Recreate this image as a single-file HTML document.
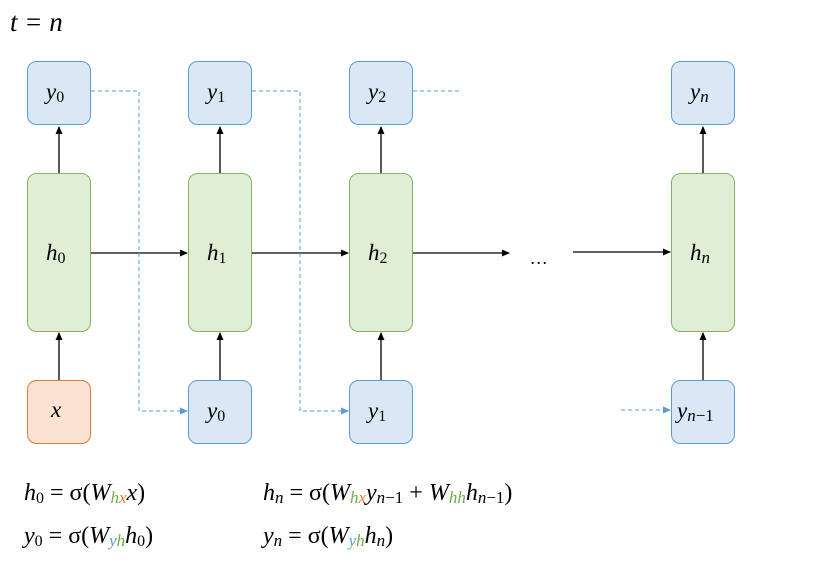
<!DOCTYPE html>
<html><head><meta charset="utf-8"><style>
body{margin:0;background:#fff}
svg text{font-family:"Liberation Serif",serif;font-style:italic}
</style></head><body>
<svg width="813" height="559" viewBox="0 0 813 559" xmlns="http://www.w3.org/2000/svg">
<defs>
<marker id="a" markerWidth="8" markerHeight="8" refX="7" refY="4" orient="auto" markerUnits="userSpaceOnUse"><path d="M0,0.5 L8,4 L0,7.5z" fill="#000"/></marker>
<marker id="b" markerWidth="8" markerHeight="8" refX="7" refY="4" orient="auto" markerUnits="userSpaceOnUse"><path d="M0,0.5 L8,4 L0,7.5z" fill="#5b9bd5"/></marker>
</defs>
<text x="10" y="31" font-size="27">t = n</text>
<g stroke="#000" stroke-width="1.3" fill="none">
<line x1="59" y1="173" x2="59" y2="127" marker-end="url(#a)"/>
<line x1="220" y1="173" x2="220" y2="127" marker-end="url(#a)"/>
<line x1="381" y1="173" x2="381" y2="127" marker-end="url(#a)"/>
<line x1="703" y1="173" x2="703" y2="127" marker-end="url(#a)"/>
<line x1="59" y1="380" x2="59" y2="333" marker-end="url(#a)"/>
<line x1="220" y1="380" x2="220" y2="333" marker-end="url(#a)"/>
<line x1="381" y1="380" x2="381" y2="333" marker-end="url(#a)"/>
<line x1="703" y1="380" x2="703" y2="333" marker-end="url(#a)"/>
<line x1="91" y1="253" x2="187" y2="253" marker-end="url(#a)"/>
<line x1="252" y1="253" x2="348" y2="253" marker-end="url(#a)"/>
<line x1="413" y1="253" x2="509" y2="253" marker-end="url(#a)"/>
<line x1="573" y1="252" x2="670" y2="252" marker-end="url(#a)"/>
</g>
<g stroke="#5b9bd5" stroke-width="1" fill="none" stroke-dasharray="4,3">
<polyline points="91,91 139,91 139,411 187,411" marker-end="url(#b)"/>
<polyline points="252,91 300,91 300,411 348,411" marker-end="url(#b)"/>
<line x1="413" y1="91" x2="459" y2="91"/>
<line x1="621" y1="410" x2="670" y2="410" marker-end="url(#b)"/>
</g>
<g stroke="#5b9bd5" fill="#dae8f5" stroke-width="1">
<rect x="27.5" y="61.5" width="63" height="63" rx="9"/>
<rect x="188.5" y="61.5" width="63" height="63" rx="9"/>
<rect x="349.5" y="61.5" width="63" height="63" rx="9"/>
<rect x="671.5" y="61.5" width="63" height="63" rx="9"/>
<rect x="188.5" y="380.5" width="63" height="63" rx="9"/>
<rect x="349.5" y="380.5" width="63" height="63" rx="9"/>
<rect x="671.5" y="380.5" width="63" height="63" rx="9"/>
</g>
<rect x="27.5" y="380.5" width="63" height="63" rx="9" fill="#fbe2d3" stroke="#e07a2e"/>
<g stroke="#82b366" fill="#e0eed5" stroke-width="1">
<rect x="27.5" y="173.5" width="63" height="158" rx="9"/>
<rect x="188.5" y="173.5" width="63" height="158" rx="9"/>
<rect x="349.5" y="173.5" width="63" height="158" rx="9"/>
<rect x="671.5" y="173.5" width="63" height="158" rx="9"/>
</g>
<g font-size="23">
<text x="46" y="99">y<tspan font-size="16" font-style="normal" dy="3">0</tspan></text>
<text x="207" y="99">y<tspan font-size="16" font-style="normal" dy="3">1</tspan></text>
<text x="368" y="99">y<tspan font-size="16" font-style="normal" dy="3">2</tspan></text>
<text x="690" y="99">y<tspan font-size="17" dy="3">n</tspan></text>
<text x="46" y="260">h<tspan font-size="16" font-style="normal" dy="3">0</tspan></text>
<text x="207" y="260">h<tspan font-size="16" font-style="normal" dy="3">1</tspan></text>
<text x="368" y="260">h<tspan font-size="16" font-style="normal" dy="3">2</tspan></text>
<text x="690" y="260">h<tspan font-size="17" dy="3">n</tspan></text>
<text x="51" y="417">x</text>
<text x="207" y="418">y<tspan font-size="16" font-style="normal" dy="3">0</tspan></text>
<text x="368" y="418">y<tspan font-size="16" font-style="normal" dy="3">1</tspan></text>
<text x="677" y="418">y<tspan font-size="17" dy="3">n</tspan><tspan font-size="17" font-style="normal">−1</tspan></text>
<text x="531" y="264" font-size="18" font-style="normal">…</text>
</g>
<g font-size="24">
<text x="24" y="500">h<tspan font-size="16" font-style="normal" dy="3">0</tspan><tspan dy="-3" font-style="normal"> = σ(</tspan>W<tspan font-size="17" dy="3" fill="#70ad47">h</tspan><tspan font-size="17" fill="#ed7d31">x</tspan><tspan dy="-3">x</tspan><tspan font-style="normal">)</tspan></text>
<text x="24" y="543">y<tspan font-size="16" font-style="normal" dy="3">0</tspan><tspan dy="-3" font-style="normal"> = σ(</tspan>W<tspan font-size="17" dy="3" fill="#5b9bd5">y</tspan><tspan font-size="17" fill="#70ad47">h</tspan><tspan dy="-3">h</tspan><tspan font-size="16" font-style="normal" dy="3">0</tspan><tspan dy="-3" font-style="normal">)</tspan></text>
<text x="263" y="500">h<tspan font-size="17" dy="3">n</tspan><tspan dy="-3" font-style="normal"> = σ(</tspan>W<tspan font-size="17" dy="3" fill="#70ad47">h</tspan><tspan font-size="17" fill="#ed7d31">x</tspan><tspan dy="-3">y</tspan><tspan font-size="17" dy="3">n</tspan><tspan font-size="17" font-style="normal">−1</tspan><tspan dy="-3" font-style="normal"> + </tspan>W<tspan font-size="17" dy="3" fill="#70ad47">hh</tspan><tspan dy="-3">h</tspan><tspan font-size="17" dy="3">n</tspan><tspan font-size="17" font-style="normal">−1</tspan><tspan dy="-3" font-style="normal">)</tspan></text>
<text x="263" y="543">y<tspan font-size="17" dy="3">n</tspan><tspan dy="-3" font-style="normal"> = σ(</tspan>W<tspan font-size="17" dy="3" fill="#5b9bd5">y</tspan><tspan font-size="17" fill="#70ad47">h</tspan><tspan dy="-3">h</tspan><tspan font-size="17" dy="3">n</tspan><tspan dy="-3" font-style="normal">)</tspan></text>
</g>
</svg>
</body></html>
